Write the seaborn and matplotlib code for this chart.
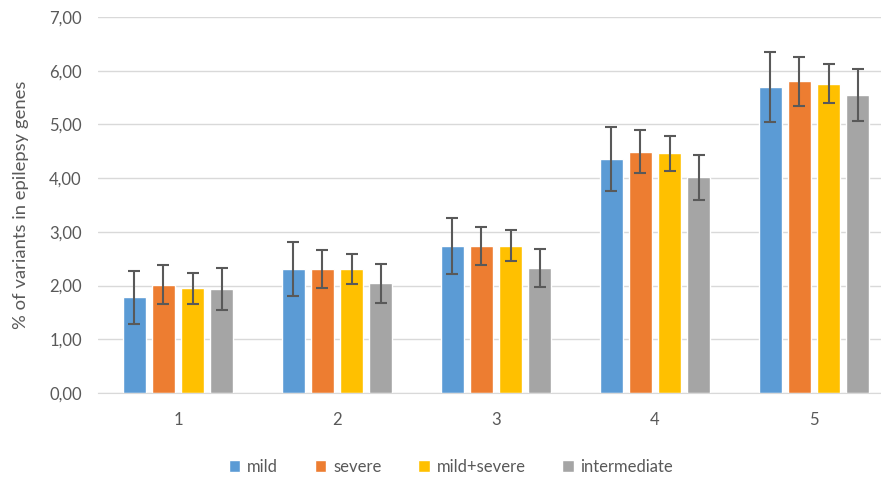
import numpy as np
import pandas as pd
import matplotlib
matplotlib.use("Agg")
import matplotlib.pyplot as plt
from matplotlib.ticker import FuncFormatter
import seaborn as sns

# データ
categories = ["1", "2", "3", "4", "5"]
groups = ["mild", "severe", "mild+severe", "intermediate"]
mild = [1.78, 2.31, 2.74, 4.36, 5.69]
severe = [2.02, 2.31, 2.74, 4.49, 5.80]
mild_severe = [1.95, 2.31, 2.74, 4.46, 5.76]
intermediate = [1.93, 2.04, 2.33, 4.02, 5.55]
mild_err = [0.50, 0.51, 0.52, 0.59, 0.65]
severe_err = [0.36, 0.35, 0.35, 0.40, 0.45]
mild_severe_err = [0.29, 0.28, 0.29, 0.33, 0.37]
intermediate_err = [0.39, 0.36, 0.36, 0.42, 0.48]

values = [mild, severe, mild_severe, intermediate]
errors = [mild_err, severe_err, mild_severe_err, intermediate_err]

rows = []
for g, vals, errs in zip(groups, values, errors):
    for c, v, e in zip(categories, vals, errs):
        rows.append({"category": c, "group": g, "value": v, "err": e})
data = pd.DataFrame(rows)

palette = ["#5B9BD5", "#ED7D31", "#FFC000", "#A5A5A5"]

sns.set_style("white")
plt.rcParams["font.family"] = ["Lato", "DejaVu Sans"]

fig = plt.figure(figsize=(8.81, 4.79), dpi=100)
# プロット領域は右端で切れている (元図に合わせる)
ax = fig.add_axes([0.1118, 0.1795, 0.9024, 0.785])

sns.barplot(data=data, x="category", y="value", hue="group", hue_order=groups,
            palette=palette, errorbar=None, width=0.73, gap=0.22,
            saturation=1, ax=ax, zorder=2)

# エラーバー
for cont, g in zip(ax.containers, groups):
    sub = data[data["group"] == g]
    xs = [p.get_x() + p.get_width() / 2 for p in cont]
    ax.errorbar(xs, sub["value"].values, yerr=sub["err"].values, fmt="none",
                ecolor="#595959", elinewidth=1.5, capsize=4, capthick=1.5, zorder=3)

ax.set_xlim(-0.5, 4.5)
ax.set_ylim(0, 7)
ax.set_yticks(np.arange(0, 8, 1))
ax.yaxis.set_major_formatter(FuncFormatter(lambda v, p: f"{v:.2f}".replace(".", ",")))
ax.grid(axis="y", color="#D9D9D9", linewidth=1, zorder=0)
ax.set_axisbelow(True)
for s in ["top", "right", "left"]:
    ax.spines[s].set_visible(False)
ax.spines["bottom"].set_color("#D9D9D9")
ax.tick_params(axis="both", length=0, labelsize=12, labelcolor="#595959", pad=14)
ax.tick_params(axis="y", pad=12)
ax.set_xlabel("")
ax.set_ylabel("% of variants in epilepsy genes", fontsize=13.3, color="#595959")
ax.yaxis.set_label_coords(-0.087, 0.5)

ax.legend(loc="center", bbox_to_anchor=(451 / 881, 12 / 479), bbox_transform=fig.transFigure,
          ncol=4, frameon=False,
          handlelength=0.7, handleheight=0.7, handletextpad=0.4, columnspacing=2.2,
          fontsize=12, labelcolor="#595959")

plt.savefig("out.png", dpi=100)
